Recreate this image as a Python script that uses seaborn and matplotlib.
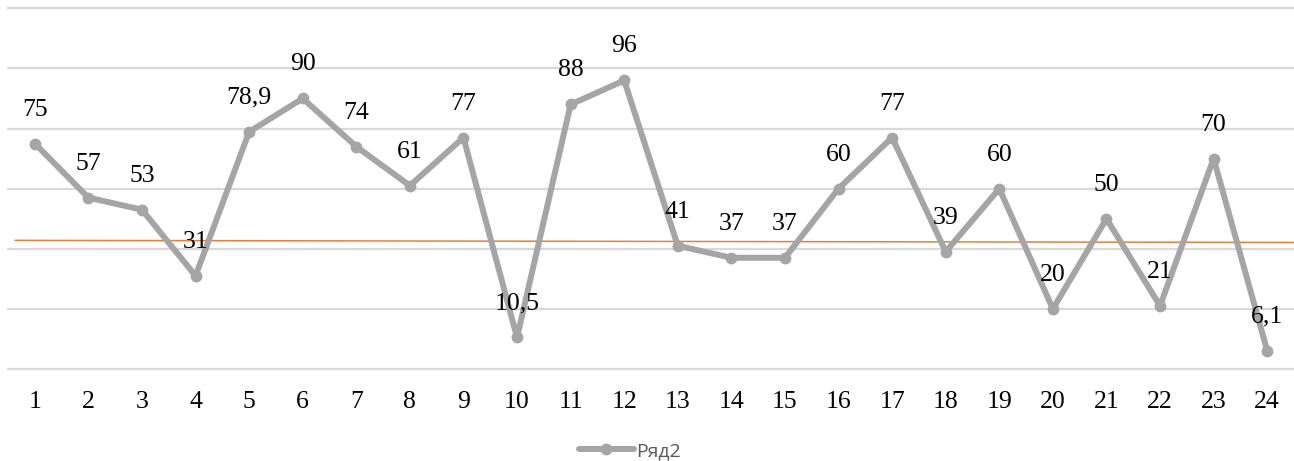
import matplotlib
matplotlib.use("Agg")
import matplotlib.pyplot as plt
import seaborn as sns
import pandas as pd
from matplotlib.lines import Line2D

# Series data
categories = list(range(1, 25))
values = [75, 57, 53, 31, 78.9, 90, 74, 61, 77, 10.5, 88, 96,
          41, 37, 37, 60, 77, 39, 60, 20, 50, 21, 70, 6.1]
series_name = "Ряд2"
# Reference line (start and end level)
ref_start = 42.8
ref_end = 42.1
y_ticks = [0, 20, 40, 60, 80, 100, 120]

GRAY = "#A5A5A5"
ORANGE = "#ED7D31"
GRID = "#D9D9D9"

sns.set_theme(style="white")
plt.rcParams["font.family"] = ["Liberation Serif", "DejaVu Serif"]

fig = plt.figure(figsize=(12.94, 4.61), dpi=100)
ax = fig.add_axes([8 / 1294, 1 - 369 / 461, 1 - 8 / 1294, (369 - 8.3) / 461])

df = pd.DataFrame({"x": categories, "y": values})

ax.set_ylim(0, 120)
ax.set_xlim(0.5, 24.5)
ax.set_yticks(y_ticks)
ax.yaxis.grid(True, color=GRID, linewidth=1.6)
ax.set_axisbelow(True)
for gl in ax.yaxis.get_gridlines():
    gl.set_clip_on(False)

# Orange reference line
ax.plot([0.63, 24.5], [ref_start, ref_end], color=ORANGE, linewidth=1.1,
        zorder=2, clip_on=False)

sns.lineplot(data=df, x="x", y="y", ax=ax, color=GRAY, linewidth=4.3,
             marker="o", markersize=8.5, markeredgewidth=0,
             markerfacecolor=GRAY, zorder=3, legend=False)

for xv, yv in zip(categories, values):
    txt = (f"{yv:g}").replace(".", ",")
    ax.annotate(txt, (xv, yv), xytext=(0, 24.5), textcoords="offset points",
                ha="center", va="center", fontsize=18.5, color="#000000",
                zorder=4)

ax.set_xticks(categories)
ax.set_xticklabels([str(c) for c in categories], fontsize=18.5, color="#000000")
ax.tick_params(axis="x", length=0, pad=15.5)
ax.tick_params(axis="y", length=0, labelleft=False)
ax.set_xlabel("")
ax.set_ylabel("")
for s in ax.spines.values():
    s.set_visible(False)

handle = Line2D([0], [0], color=GRAY, linewidth=4.3, marker="o",
                markersize=8.5, markeredgewidth=0)
fig.legend([handle], [series_name], loc="center", bbox_to_anchor=(0.487, 1 - 451 / 461),
           frameon=False, handlelength=2.8, handletextpad=0.15,
           prop={"family": ["Open Sans", "DejaVu Sans"], "size": 14},
           labelcolor="#595959")

fig.savefig("out.png", dpi=100)
